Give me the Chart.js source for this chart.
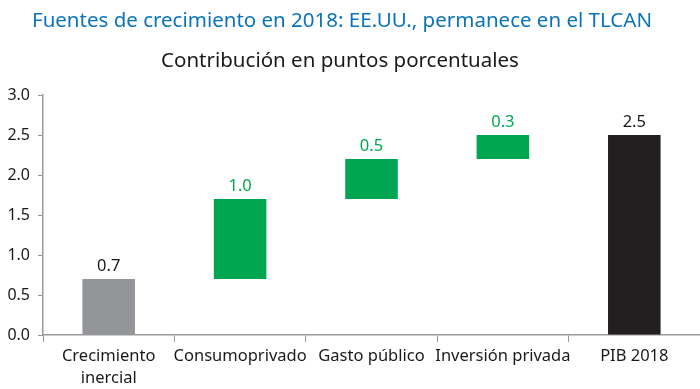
<!DOCTYPE html>
<html><head><meta charset="utf-8">
<script src="https://cdn.jsdelivr.net/npm/chart.js@4/dist/chart.umd.min.js"></script>
<style>
html,body{margin:0;padding:0;background:#fff;}
#wrap{position:relative;width:700px;height:389px;}
#t1{position:absolute;left:0;width:684px;top:5px;text-align:center;font-family:"Noto Sans";font-size:20.5px;color:#0A74BC;white-space:nowrap;}
#t2{position:absolute;left:0;width:680px;top:45px;text-align:center;font-family:"Noto Sans";font-size:20.5px;color:#1a1a1a;white-space:nowrap;}
canvas{position:absolute;left:0;top:0;}
</style></head><body>
<div id="wrap">
<canvas id="c" width="700" height="389"></canvas>
<div id="t1">Fuentes de crecimiento en 2018: EE.UU., permanece en el TLCAN</div>
<div id="t2">Contribución en puntos porcentuales</div>
</div>
<script>
const categories = [["Crecimiento","inercial"],"Consumoprivado","Gasto público","Inversión privada","PIB 2018"];
const contributions = [0.7, 1.0, 0.5, 0.3, 2.5];
const barStarts = [0, 0.7, 1.7, 2.2, 0];
const barColors = ["#939598","#00A651","#00A651","#00A651","#231F20"];
const labelColors = ["#1a1a1a","#00A651","#00A651","#00A651","#1a1a1a"];
const yTicks = [0,0.5,1.0,1.5,2.0,2.5,3.0];

const ranges = contributions.map((v,i)=>[barStarts[i], +(barStarts[i]+v).toFixed(2)]);

const valueLabels = {
  id:'valueLabels',
  afterDatasetsDraw(chart){
    const ctx = chart.ctx;
    const meta = chart.getDatasetMeta(0);
    ctx.save();
    ctx.font = '16.5px "Noto Sans"';
    ctx.textAlign = 'center';
    ctx.textBaseline = 'alphabetic';
    meta.data.forEach((bar,i)=>{
      ctx.fillStyle = labelColors[i];
      ctx.fillText(contributions[i].toFixed(1), bar.x, Math.min(bar.y, bar.base) - 8);
    });
    ctx.restore();
  }
};

new Chart(document.getElementById('c'), {
  type:'bar',
  data:{labels:categories, datasets:[{data:ranges, backgroundColor:barColors, borderWidth:0, barPercentage:0.4, categoryPercentage:1.0}]},
  options:{
    responsive:false, animation:false,
    layout:{padding:{top:95,right:0,bottom:0,left:0}},
    plugins:{legend:{display:false}, tooltip:{enabled:false}},
    scales:{
      x:{
        afterFit(s){ s.height = 54; },
        grid:{offset:true, drawOnChartArea:false, drawTicks:true, tickLength:7, color:'#999'},
        border:{color:'#999', width:1.5},
        ticks:{color:'#1a1a1a', font:{family:'Noto Sans', size:16.5, lineHeight:1.3}, padding:4, maxRotation:0, autoSkip:false}
      },
      y:{
        min:0, max:3,
        afterBuildTicks(s){ s.ticks = yTicks.map(v=>({value:v})); },
        afterFit(s){ s.width = 43; },
        grid:{drawOnChartArea:false, drawTicks:true, tickLength:5, color:'#999'},
        border:{color:'#999', width:1.5},
        ticks:{color:'#1a1a1a', font:{family:'Noto Sans', size:16}, padding:8, callback:v=>v.toFixed(1)}
      }
    }
  },
  plugins:[valueLabels]
});
</script>
</body></html>
